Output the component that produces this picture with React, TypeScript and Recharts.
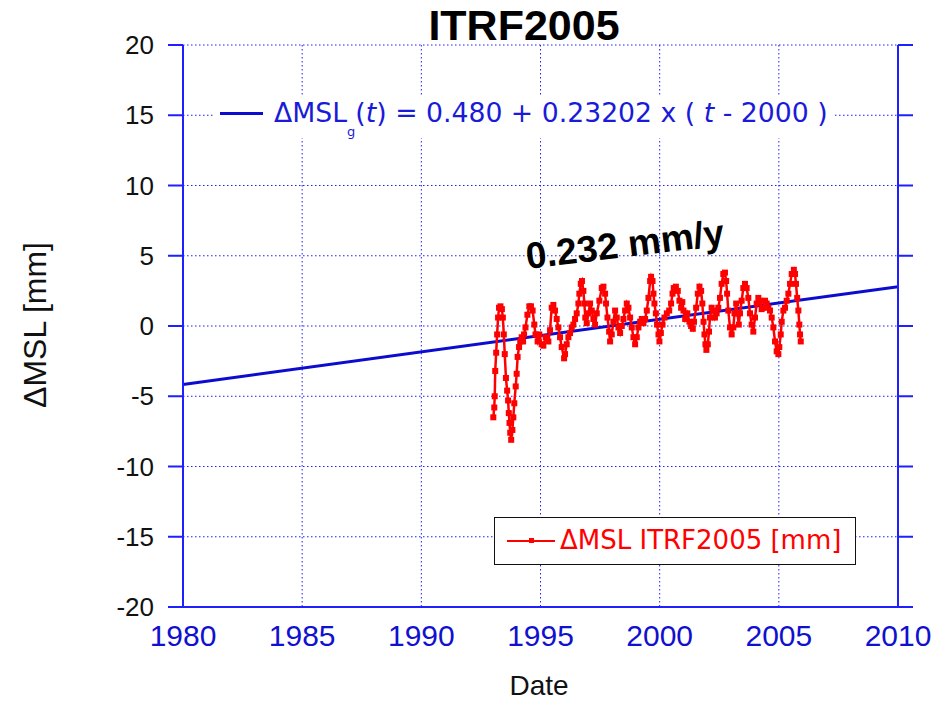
import { CartesianGrid, ComposedChart, Legend, Line, XAxis, YAxis } from "recharts";

// ΔMSL ITRF2005 [mm]
const years = [
  1993.02, 1993.06, 1993.08, 1993.1, 1993.14, 1993.18, 1993.22, 1993.26, 1993.32, 1993.38,
  1993.42, 1993.46, 1993.5, 1993.55, 1993.6, 1993.64, 1993.67, 1993.7, 1993.73, 1993.77,
  1993.82, 1993.86, 1993.9, 1993.96, 1994.0, 1994.04, 1994.1, 1994.15, 1994.21, 1994.27,
  1994.31, 1994.37, 1994.45, 1994.53, 1994.6, 1994.67, 1994.74, 1994.79, 1994.88, 1994.95,
  1995.05, 1995.12, 1995.22, 1995.33, 1995.4, 1995.47, 1995.54, 1995.61, 1995.68, 1995.75,
  1995.82, 1995.89, 1995.99, 1996.03, 1996.1, 1996.17, 1996.24, 1996.31, 1996.38, 1996.45,
  1996.52, 1996.59, 1996.63, 1996.69, 1996.74, 1996.8, 1996.84, 1996.88, 1996.94, 1997.01,
  1997.08, 1997.15, 1997.22, 1997.29, 1997.36, 1997.47, 1997.57, 1997.64, 1997.71, 1997.75,
  1997.81, 1997.88, 1997.92, 1997.99, 1998.06, 1998.13, 1998.2, 1998.27, 1998.34, 1998.41,
  1998.48, 1998.55, 1998.62, 1998.69, 1998.76, 1998.83, 1998.9, 1998.97, 1999.04, 1999.11,
  1999.18, 1999.25, 1999.32, 1999.39, 1999.46, 1999.53, 1999.6, 1999.64, 1999.7, 1999.74,
  1999.78, 1999.84, 1999.89, 1999.95, 1999.99, 2000.05, 2000.12, 2000.2, 2000.3, 2000.4,
  2000.48, 2000.54, 2000.59, 2000.68, 2000.76, 2000.83, 2000.9, 2000.95, 2001.0, 2001.07,
  2001.16, 2001.25, 2001.32, 2001.39, 2001.44, 2001.53, 2001.6, 2001.67, 2001.74, 2001.79,
  2001.84, 2001.88, 2001.92, 2001.96, 2002.02, 2002.07, 2002.11, 2002.18, 2002.25, 2002.32,
  2002.39, 2002.46, 2002.53, 2002.6, 2002.67, 2002.74, 2002.79, 2002.83, 2002.88, 2002.95,
  2003.02, 2003.09, 2003.14, 2003.21, 2003.26, 2003.32, 2003.37, 2003.44, 2003.51, 2003.58,
  2003.65, 2003.72, 2003.79, 2003.86, 2003.93, 2004.0, 2004.07, 2004.14, 2004.21, 2004.28,
  2004.35, 2004.42, 2004.49, 2004.56, 2004.63, 2004.7, 2004.77, 2004.84, 2004.91, 2004.98,
  2005.02, 2005.08, 2005.12, 2005.19, 2005.26, 2005.33, 2005.4, 2005.47, 2005.54, 2005.63,
  2005.68, 2005.72, 2005.77, 2005.82, 2005.86, 2005.89, 2005.92,
];
const mslValues = [
  -6.5, -5.8, -5.0, -3.2, -1.9, -0.6, 0.6, 1.3, 1.4, 1.2,
  0.6, -0.6, -2.0, -3.7, -4.6, -5.3, -6.2, -6.9, -7.6, -8.1,
  -7.4, -6.5, -5.5, -4.3, -3.4, -2.2, -1.5, -1.1, -0.8, -1.1,
  -0.6, -0.1, 0.8, 1.4, 1.4, 1.1, 0.1, -0.6, -1.1, -0.6,
  -1.3, -1.4, -0.8, -1.1, -0.3, 1.3, 1.5, 1.1, 0.5, -0.1,
  -0.8, -1.5, -2.3, -2.0, -1.3, -0.8, -0.5, -0.1, 0.1, 0.5,
  0.9, 1.6, 2.3, 3.0, 3.2, 2.5, 1.6, 0.6, 0.2, 0.9,
  1.6, 1.1, 0.5, 0.1, 0.9, 1.8, 2.7, 2.8, 2.3, 1.6,
  0.6, -0.4, -1.1, -0.6, 0.3, 1.1, 0.6, -0.1, -0.5, 0.0,
  0.5, 1.1, 1.6, 1.3, 0.6, -0.1, -0.8, -1.3, -0.8, -0.1,
  0.3, 0.5, 0.2, 0.5, 1.1, 2.0, 3.2, 3.5, 3.2, 2.3,
  1.6, 0.9, 0.1, -0.6, -1.1, -0.5, 0.1, 0.6, 0.9, 1.1,
  1.6, 2.3, 2.7, 2.8, 2.5, 1.8, 1.3, 1.7, 1.1, 0.5,
  0.9, 0.3, 0.0, -0.2, 0.3, 1.3, 2.3, 2.8, 2.5, 1.6,
  0.3, -0.6, -1.3, -1.7, -1.3, -0.4, 0.6, 1.3, 1.1, 0.6,
  0.9, 1.3, 2.0, 3.0, 3.7, 3.8, 3.2, 2.3, 1.1, -0.1,
  -0.6, -0.1, 0.9, 1.6, 0.9, 0.1, 0.9, 1.8, 2.7, 3.0,
  2.7, 2.0, 0.9, 0.1, -0.4, 0.6, 1.6, 2.0, 1.8, 1.2,
  1.3, 1.8, 1.6, 1.3, 1.1, 0.6, -0.1, -1.1, -1.8, -2.0,
  -1.5, -0.6, 0.3, 1.1, 1.3, 1.8, 2.3, 3.0, 3.7, 4.0,
  3.7, 3.0, 2.0, 1.1, 0.1, -0.6, -1.1,
];

// fitted line ΔMSL_g(t) at the ends of the axis
const fitYears = [1980, 2010];
const fitValues = [-4.16, 2.8];

const xTicks = [1980, 1985, 1990, 1995, 2000, 2005, 2010];
const yTicks = [-20, -15, -10, -5, 0, 5, 10, 15, 20];

const mslData = years.map((t, i) => ({ t, msl: mslValues[i] }));
const fitData = fitYears.map((t, i) => ({ t, fit: fitValues[i] }));

const BLUE = "#1f1fff";
const FIT = "#0c0cd0";
const RED = "#ff0000";
const SANS = "'Liberation Sans', Arial, sans-serif";
const WIDE = "'DejaVu Sans', Verdana, sans-serif";

const SquareDot = (props: any) => {
  const { cx, cy, index } = props;
  if (cx == null || cy == null) return <g key={index} />;
  return <rect key={index} x={cx - 3} y={cy - 3} width={6} height={6} fill={RED} />;
};

function LegendBoxes() {
  return (
    <>
      <div
        style={{
          position: "absolute",
          left: 213,
          top: 96,
          width: 622,
          height: 42,
          background: "#fff",
        }}
      >
        <div style={{ position: "absolute", left: 7, top: 16, width: 43, height: 3, background: FIT }} />
        <div
          style={{
            position: "absolute",
            left: 61,
            top: 4,
            whiteSpace: "nowrap",
            fontFamily: WIDE,
            fontSize: 26.7,
            lineHeight: "26px",
            color: "#1a1ad8",
          }}
        >
          ΔMSL<sub style={{ fontSize: 13, verticalAlign: -14 }}>g</sub>(<i>t</i>) = 0.480 + 0.23202 x ( <i>t</i> - 2000 )
        </div>
      </div>
      <div
        style={{
          position: "absolute",
          left: 494,
          top: 517,
          width: 360,
          height: 46,
          background: "#fff",
          border: "1.5px solid #111",
        }}
      >
        <div style={{ position: "absolute", left: 12, top: 22, width: 48, height: 1.5, background: RED }} />
        <div style={{ position: "absolute", left: 34, top: 20, width: 5, height: 5, background: RED }} />
        <div
          style={{
            position: "absolute",
            left: 65,
            top: 9,
            whiteSpace: "nowrap",
            fontFamily: WIDE,
            fontSize: 26,
            lineHeight: "26px",
            color: RED,
          }}
        >
          ΔMSL ITRF2005 [mm]
        </div>
      </div>
    </>
  );
}

export default function App() {
  return (
    <div style={{ position: "absolute", left: 0, top: 0, width: 933, height: 701, background: "#fff" }}>
      <ComposedChart width={933} height={701} margin={{ top: 45, right: 0, bottom: 34, left: 103 }}>
        <CartesianGrid stroke={BLUE} strokeDasharray="1.5 2.5" strokeWidth={1} />
        <XAxis
          dataKey="t"
          type="number"
          domain={[1980, 2010]}
          ticks={xTicks}
          allowDataOverflow
          height={60}
          tickLine={false}
          tickSize={0}
          tickMargin={18}
          axisLine={{ stroke: BLUE, strokeWidth: 2 }}
          tick={{ fill: "#1010d0", fontSize: 30, fontFamily: SANS }}
        />
        <XAxis
          xAxisId="top"
          orientation="top"
          dataKey="t"
          type="number"
          domain={[1980, 2010]}
          ticks={xTicks}
          height={0}
          tick={false}
          tickLine={false}
          axisLine={{ stroke: BLUE, strokeWidth: 2 }}
        />
        <YAxis
          type="number"
          domain={[-20, 20]}
          ticks={yTicks}
          allowDataOverflow
          width={80}
          tickSize={15}
          tickMargin={14}
          tickLine={{ stroke: BLUE, strokeWidth: 2 }}
          axisLine={{ stroke: BLUE, strokeWidth: 2 }}
          tick={{ fill: "#111", fontSize: 26, fontFamily: SANS }}
        />
        <YAxis
          yAxisId="right"
          orientation="right"
          type="number"
          domain={[-20, 20]}
          ticks={yTicks}
          allowDataOverflow
          width={35}
          tickSize={15}
          tickFormatter={() => ""}
          tickLine={{ stroke: BLUE, strokeWidth: 2 }}
          axisLine={{ stroke: BLUE, strokeWidth: 2 }}
        />
        <Line
          data={fitData}
          xAxisId="top"
          yAxisId="right"
          dataKey="fit"
          stroke={FIT}
          strokeWidth={3}
          dot={false}
          isAnimationActive={false}
          name="ΔMSL_g(t)"
        />
        <Line
          data={mslData}
          dataKey="msl"
          stroke={RED}
          strokeWidth={2.5}
          dot={SquareDot}
          isAnimationActive={false}
          name="ΔMSL ITRF2005 [mm]"
        />
        <Legend
          layout="horizontal"
          verticalAlign="middle"
          align="center"
          content={() => <LegendBoxes />}
          wrapperStyle={{ left: 0, top: 0, width: 933, height: 701, pointerEvents: "none" }}
        />
      </ComposedChart>
      <div
        style={{
          position: "absolute",
          left: 324,
          width: 400,
          top: 4,
          textAlign: "center",
          fontFamily: SANS,
          fontWeight: 700,
          fontSize: 43,
          lineHeight: "43px",
          color: "#000",
        }}
      >
        ITRF2005
      </div>
      <div
        style={{
          position: "absolute",
          left: 439,
          width: 200,
          top: 673,
          height: 26,
          textAlign: "center",
          fontFamily: SANS,
          fontSize: 28,
          lineHeight: "26px",
          color: "#111",
        }}
      >
        Date
      </div>
      <div
        style={{
          position: "absolute",
          left: 35 - 120,
          top: 325 - 16,
          width: 240,
          height: 32,
          textAlign: "center",
          transform: "rotate(-90deg)",
          fontFamily: SANS,
          fontSize: 32,
          lineHeight: "32px",
          color: "#111",
        }}
      >
        ΔMSL [mm]
      </div>
      <div
        style={{
          position: "absolute",
          left: 625 - 150,
          top: 245 - 20,
          width: 300,
          height: 40,
          textAlign: "center",
          transform: "rotate(-7deg)",
          fontFamily: SANS,
          fontWeight: 700,
          fontSize: 37,
          lineHeight: "40px",
          color: "#000",
        }}
      >
        0.232 mm/y
      </div>
    </div>
  );
}
